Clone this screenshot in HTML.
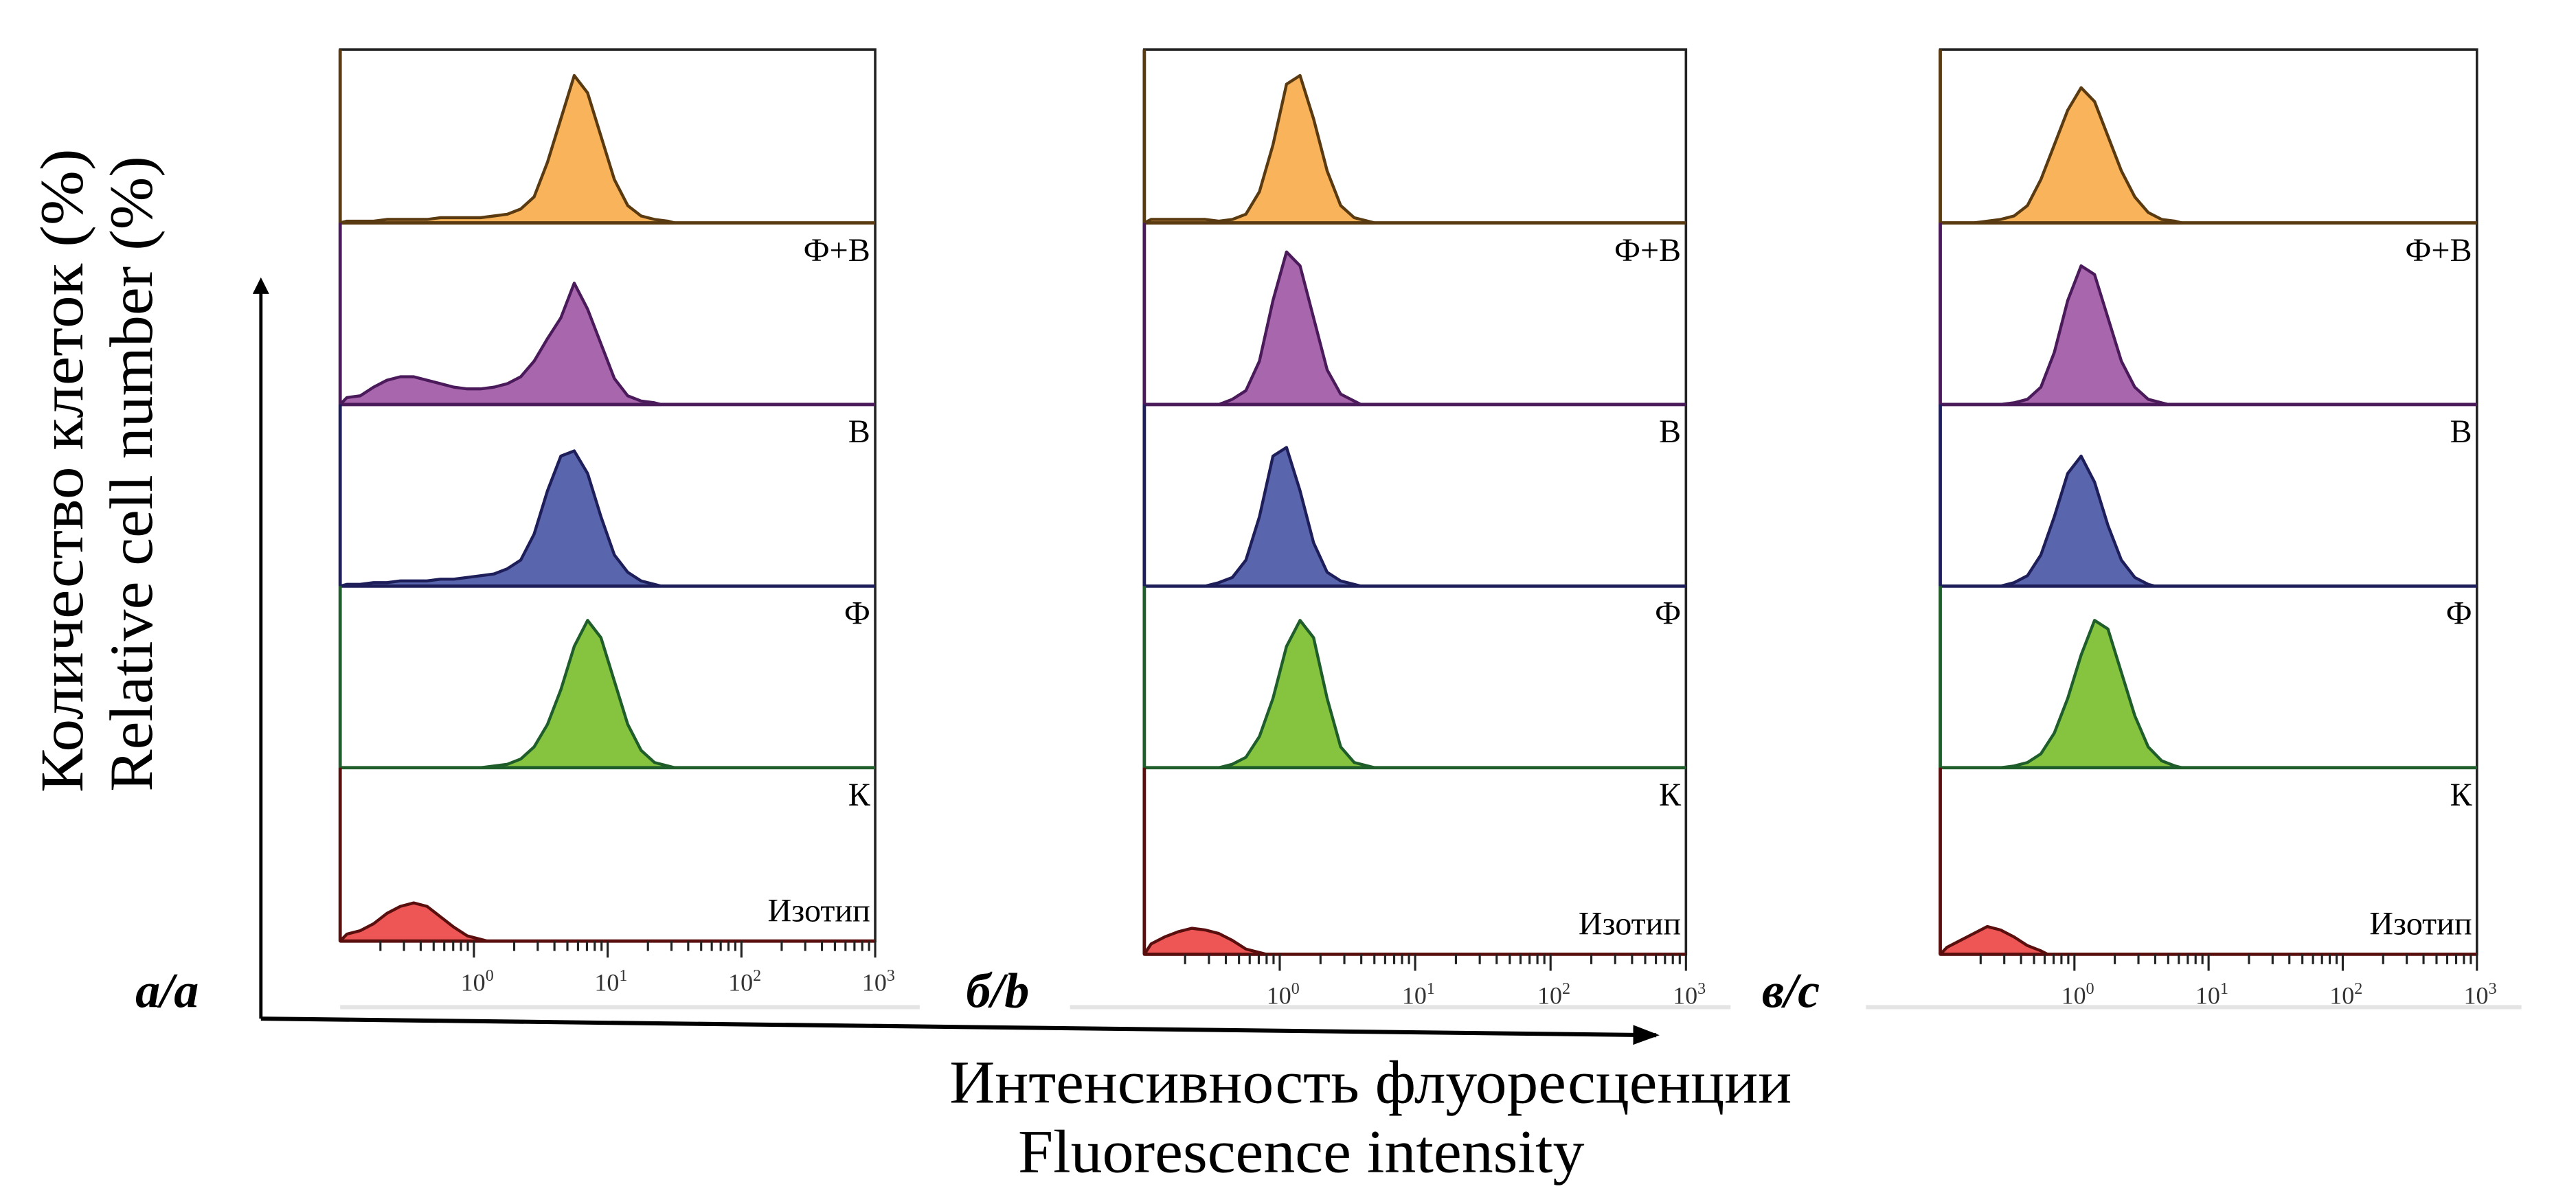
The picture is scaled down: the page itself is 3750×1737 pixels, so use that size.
<!DOCTYPE html>
<html><head><meta charset="utf-8"><style>
html,body{margin:0;padding:0;background:#fff;}
svg{display:block;}
text{font-family:"Liberation Serif","DejaVu Serif",serif;}
</style></head><body>
<svg id="fig" xmlns="http://www.w3.org/2000/svg" width="3750" height="1737" viewBox="0 0 1560 722.6" preserveAspectRatio="none">
<defs><marker id="ah" markerWidth="10" markerHeight="10" refX="8" refY="5" orient="auto" markerUnits="userSpaceOnUse"><path d="M0,0 L10,5 L0,10 Z" fill="#000"/></marker>
<marker id="ah2" markerWidth="16" markerHeight="12" refX="14" refY="6" orient="auto" markerUnits="userSpaceOnUse"><path d="M0,0 L16,6 L0,12 Z" fill="#000"/></marker></defs>
<g id="panels"></g>
<line x1="158" y1="617" x2="158" y2="170" stroke="#000" stroke-width="2" marker-end="url(#ah)"/>
<line x1="158" y1="617" x2="1003" y2="627" stroke="#000" stroke-width="2.5" marker-end="url(#ah2)"/>
<text transform="translate(50,285) rotate(-90)" text-anchor="middle" font-size="37" textLength="390" lengthAdjust="spacingAndGlyphs">Количество  клеток (%)</text>
<text transform="translate(92,287) rotate(-90)" text-anchor="middle" font-size="37" textLength="385" lengthAdjust="spacingAndGlyphs">Relative cell number  (%)</text>
<text x="830" y="668" text-anchor="middle" font-size="37" textLength="510" lengthAdjust="spacingAndGlyphs">Интенсивность флуоресценции</text>
<text x="788" y="710" text-anchor="middle" font-size="37" textLength="343" lengthAdjust="spacingAndGlyphs">Fluorescence intensity</text>
<text x="82" y="610" font-size="30" font-style="italic" font-weight="bold">а/a</text>
<text x="585" y="610" font-size="30" font-style="italic" font-weight="bold">б/b</text>
<text x="1067" y="610" font-size="30" font-style="italic" font-weight="bold">в/c</text>
</svg>
<script>
const rowLabels = ["Ф+В","В","Ф","К","Изотип"];
const tickLabels = ["0","1","2","3"];
// counts per 0.1-decade bin starting at 10^-1 (relative height 0-100)
const aFB = [1,1,1,2,2,2,2,3,3,3,3,4,5,8,15,35,60,85,75,50,25,10,4,2,1];
const aB  = [4,5,10,14,16,16,14,12,10,9,9,10,12,16,25,38,50,70,55,35,15,5,2,1];
const aF  = [1,1,2,2,3,3,3,4,4,5,6,7,10,15,30,55,75,78,65,40,18,8,3,1];
const aK  = [0,0,0,0,0,0,0,0,0,0,0,1,2,5,12,25,45,70,85,75,50,25,10,3,1];
const aI  = [4,6,10,16,20,22,20,14,8,3,1];
const bFB = [2,2,2,2,2,1,2,5,18,45,80,85,60,30,10,3,1];
const bB  = [0,0,0,0,0,0,3,8,25,60,88,80,50,20,6,2];
const bF  = [0,0,0,0,0,2,5,15,40,75,80,55,25,8,3,1];
const bK  = [0,0,0,0,0,0,2,6,18,40,70,85,75,40,12,3,1];
const bI  = [6,10,13,15,14,12,8,3,1];
const cFB = [0,0,0,1,2,4,10,25,45,65,78,70,50,30,15,6,2,1];
const cB  = [0,0,0,0,0,1,3,10,30,60,80,75,50,25,10,3,1];
const cF  = [0,0,0,0,0,2,6,18,40,65,75,60,35,15,5,1];
const cK  = [0,0,0,0,0,1,3,8,20,40,65,85,80,55,30,12,4,1];
const cI  = [4,8,12,16,14,10,5,2];

const panels = [
  {id:"a", x0:206, x1:530, top:30, bottom:570, series:[aFB,aB,aF,aK,aI]},
  {id:"b", x0:693, x1:1021, top:30, bottom:578, series:[bFB,bB,bF,bK,bI]},
  {id:"c", x0:1175, x1:1500, top:30, bottom:578, series:[cFB,cB,cF,cK,cI]}
];
const fills = ["#f9b35a","#a867ac","#5965ac","#86c440","#ee5555"];
const strokes = ["#5a3a10","#4a1a5a","#1e1f5a","#1f5e2a","#5a0f0f"];
const NS = "http://www.w3.org/2000/svg";
const root = document.getElementById("panels");
function mk(tag, attrs, parent){const e=document.createElementNS(NS,tag);for(const k in attrs)e.setAttribute(k,attrs[k]);parent.appendChild(e);return e;}
panels.forEach(p=>{
  const g = mk("g",{},root);
  
  
  const dec = (p.x1-p.x0)/4;
  const xs = v => p.x0 + (v+1)*dec;
  const baselines = [135,245,355,465,p.bottom];
  const rowH = 105;
  mk("rect",{x:p.x0,y:p.top,width:p.x1-p.x0,height:p.bottom-p.top,fill:"none",stroke:"#222","stroke-width":1.5},g);
  p.series.forEach((s,r)=>{
    const base = baselines[r];
    const top = r===0?p.top:baselines[r-1];
    let d = "M"+xs(-1)+","+base;
    s.forEach((v,i)=>{
      const y = base - v/100*rowH;
      d += " L"+xs(-1+0.1*(i+0.5))+","+y;
    });
    d += " L"+xs(-1+0.1*s.length)+","+base+" Z";
    const path = mk("path",{d:d,fill:fills[r],stroke:strokes[r],"stroke-width":1.8,"stroke-linejoin":"round"},g);
    
    
    mk("line",{x1:p.x0,y1:base,x2:p.x1,y2:base,stroke:strokes[r],"stroke-width":2},g);
    mk("line",{x1:p.x0,y1:top,x2:p.x0,y2:base,stroke:strokes[r],"stroke-width":2},g);
    const lbl = mk("text",{x:p.x1-3,y:r===4?base-12:base+23,"text-anchor":"end","font-size":20},g);
    
    
    lbl.textContent = rowLabels[r];
  });
  for(let d=-1; d<3; d++){
    for(let m=2;m<=10;m++){
      const x = xs(d+Math.log10(m));
      mk("line",{x1:x,y1:p.bottom,x2:x,y2:p.bottom+(m===10?10:6),stroke:"#222","stroke-width":1.3},g);
    }
  }
  tickLabels.forEach((t,i)=>{
    const tx = mk("text",{x:xs(+t)-8,y:p.bottom+30,"font-size":15,fill:"#333"},g);
    
    
    tx.textContent = "10";
    const sup = mk("tspan",{dy:-6,"font-size":10},tx);
    sup.textContent = t;
  });
  mk("line",{x1:p.x0-(p.id==="a"?0:45),y1:610,x2:p.x1+27,y2:610,stroke:"#e4e4e4","stroke-width":2.5},g);
});
</script>
</body></html>
